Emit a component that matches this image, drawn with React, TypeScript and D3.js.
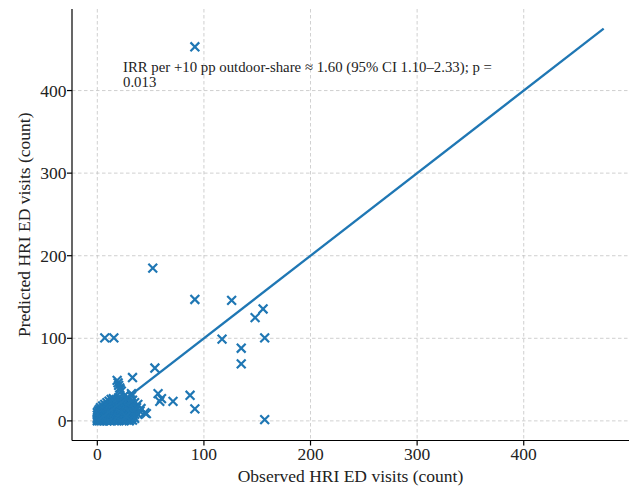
import React from "react";
import * as d3 from "d3";

const W = 630;
const H = 487;

// [observed, predicted] — scattered counties
const highPoints: [number, number][] = [
  [91.5, 453], [52, 185], [91.5, 147], [126, 146], [148, 125], [155.5, 135.5],
  [7, 100.5], [15.5, 100.5], [117, 99], [135, 88], [135, 69], [157, 100.5],
  [157, 1.6], [54, 64], [33, 52.5], [18.6, 49], [57, 33], [60.2, 27], [58.6, 23.7],
  [71, 23.7], [87, 31], [91.5, 14.5], [32, 33], [36.8, 16], [40, 11.7], [44.6, 9.8], [46, 8.8],
];

// [observed, predicted] — midrange points near the cluster
const midPoints: [number, number][] = [
  [19.5, 46], [21, 40], [22.5, 36], [20, 43], [21.5, 38], [32, 30], [38, 20],
  [27, 5.6], [36, 13], [38, 8], [41, 15], [35, 22], [33, 25], [29, 27], [25, 30],
];

// [observed, predicted] — dense low-count cluster
const clusterPoints: [number, number][] = [
  [0, 0], [0, 2], [0, 4], [0, 7], [0, 10], [1, 1], [1, 3], [1, 6], [1, 9], [1, 12],
  [2, 0], [2, 2], [2, 5], [2, 8], [2, 14], [3, 1], [3, 3], [3, 6], [3, 11], [3, 16],
  [4, 0], [4, 2], [4, 5], [4, 9], [4, 13], [5, 1], [5, 4], [5, 7], [5, 11], [5, 18],
  [6, 0], [6, 3], [6, 6], [6, 10], [6, 15], [7, 2], [7, 5], [7, 8], [7, 13], [7, 20],
  [8, 1], [8, 4], [8, 9], [8, 12], [8, 17], [9, 0], [9, 3], [9, 7], [9, 11], [9, 22],
  [10, 2], [10, 5], [10, 8], [10, 14], [10, 19], [11, 1], [11, 4], [11, 10], [11, 16], [11, 24],
  [12, 0], [12, 3], [12, 7], [12, 12], [12, 20], [13, 2], [13, 6], [13, 9], [13, 15], [13, 26],
  [14, 1], [14, 5], [14, 11], [14, 18], [14, 23], [15, 3], [15, 8], [15, 13], [15, 21], [15, 27],
  [16, 0], [16, 6], [16, 10], [16, 17], [16, 25], [17, 2], [17, 7], [17, 14], [17, 22],
  [18, 1], [18, 4], [18, 9], [18, 16], [18, 26], [19, 3], [19, 11], [19, 19], [19, 24],
  [20, 0], [20, 6], [20, 13], [20, 21], [20, 28], [21, 2], [21, 8], [21, 15], [21, 25],
  [22, 4], [22, 10], [22, 18], [22, 23], [23, 1], [23, 7], [23, 14], [23, 21],
  [24, 3], [24, 11], [24, 17], [24, 26], [25, 0], [25, 6], [25, 13], [25, 20],
  [26, 2], [26, 9], [26, 16], [26, 23], [27, 4], [27, 12], [27, 19], [28, 1], [28, 7], [28, 14], [28, 21],
  [29, 3], [29, 10], [29, 17], [30, 0], [30, 6], [30, 13], [30, 19], [31, 2], [31, 9], [31, 15],
  [32, 4], [32, 11], [32, 17], [33, 1], [33, 7], [33, 14], [34, 5], [34, 10], [35, 3], [35, 8],
];

const identityLine: [number, number][] = [[0, 0], [475, 475]];
const xTicks = [0, 100, 200, 300, 400];
const yTicks = [0, 100, 200, 300, 400];
const annotationLines = [
  "IRR per +10 pp outdoor-share \u2248 1.60 (95% CI 1.10\u20132.33); p =",
  "0.013",
];
const xLabel = "Observed HRI ED visits (count)";
const yLabel = "Predicted HRI ED visits (count)";

const BLUE = "#1f77b4";
const FONT = "'Liberation Serif', 'Times New Roman', serif";

export default function App() {
  const left = 72, right = 629, top = 9, bottom = 440.5;
  const domain: [number, number] = [-23.75, 498.75];
  const x = d3.scaleLinear().domain(domain).range([left, right]);
  const y = d3.scaleLinear().domain(domain).range([bottom, top]);
  const allPoints = [...clusterPoints, ...midPoints, ...highPoints];
  const line = d3.line<[number, number]>().x((d) => x(d[0])).y((d) => y(d[1]));
  const m = 4.4;
  const tickLen = 5;
  const fs = 17.5;

  return (
    <svg
      width={W}
      height={H}
      style={{ position: "absolute", left: 0, top: 0, background: "#fff" }}
      fontFamily={FONT}
    >
      <rect width={W} height={H} fill="#fff" />
      {/* grid */}
      {xTicks.map((t) => (
        <line key={"gx" + t} x1={x(t)} x2={x(t)} y1={top} y2={bottom}
          stroke="#c4c4c4" strokeWidth={0.8} strokeDasharray="3.5,2.5" />
      ))}
      {yTicks.map((t) => (
        <line key={"gy" + t} x1={left} x2={right} y1={y(t)} y2={y(t)}
          stroke="#c4c4c4" strokeWidth={0.8} strokeDasharray="3.5,2.5" />
      ))}
      {/* points */}
      <g stroke={BLUE} strokeWidth={2.2} strokeLinecap="butt">
        {allPoints.map((d, i) => {
          const cx = x(d[0]), cy = y(d[1]);
          return (
            <path key={i} d={`M${cx - m},${cy - m}L${cx + m},${cy + m}M${cx - m},${cy + m}L${cx + m},${cy - m}`} />
          );
        })}
      </g>
      {/* identity line */}
      <path d={line(identityLine) || ""} fill="none" stroke={BLUE} strokeWidth={2.3} />
      {/* annotation */}
      <text x={123} y={72} fontSize={14.8} fill="#222">
        {annotationLines[0]}
      </text>
      <text x={123} y={87} fontSize={14.8} fill="#222">
        {annotationLines[1]}
      </text>
      {/* spines */}
      <line x1={left} x2={left} y1={top} y2={bottom} stroke="#000" strokeWidth={1.2} />
      <line x1={left} x2={right} y1={bottom} y2={bottom} stroke="#000" strokeWidth={1.2} />
      {/* x ticks */}
      {xTicks.map((t) => (
        <g key={"xt" + t}>
          <line x1={x(t)} x2={x(t)} y1={bottom} y2={bottom + tickLen} stroke="#000" strokeWidth={1.2} />
          <text x={x(t)} y={459.5} textAnchor="middle" fontSize={fs} fill="#222">{t}</text>
        </g>
      ))}
      {/* y ticks */}
      {yTicks.map((t) => (
        <g key={"yt" + t}>
          <line x1={left - tickLen} x2={left} y1={y(t)} y2={y(t)} stroke="#000" strokeWidth={1.2} />
          <text x={left - 5.5} y={y(t)} dy="0.35em" textAnchor="end" fontSize={fs} fill="#222">{t}</text>
        </g>
      ))}
      {/* axis labels */}
      <text x={(left + right) / 2} y={482} textAnchor="middle" fontSize={fs} fill="#222">{xLabel}</text>
      <text transform={`translate(30,${(top + bottom) / 2}) rotate(-90)`} textAnchor="middle" fontSize={fs} fill="#222">{yLabel}</text>
    </svg>
  );
}
